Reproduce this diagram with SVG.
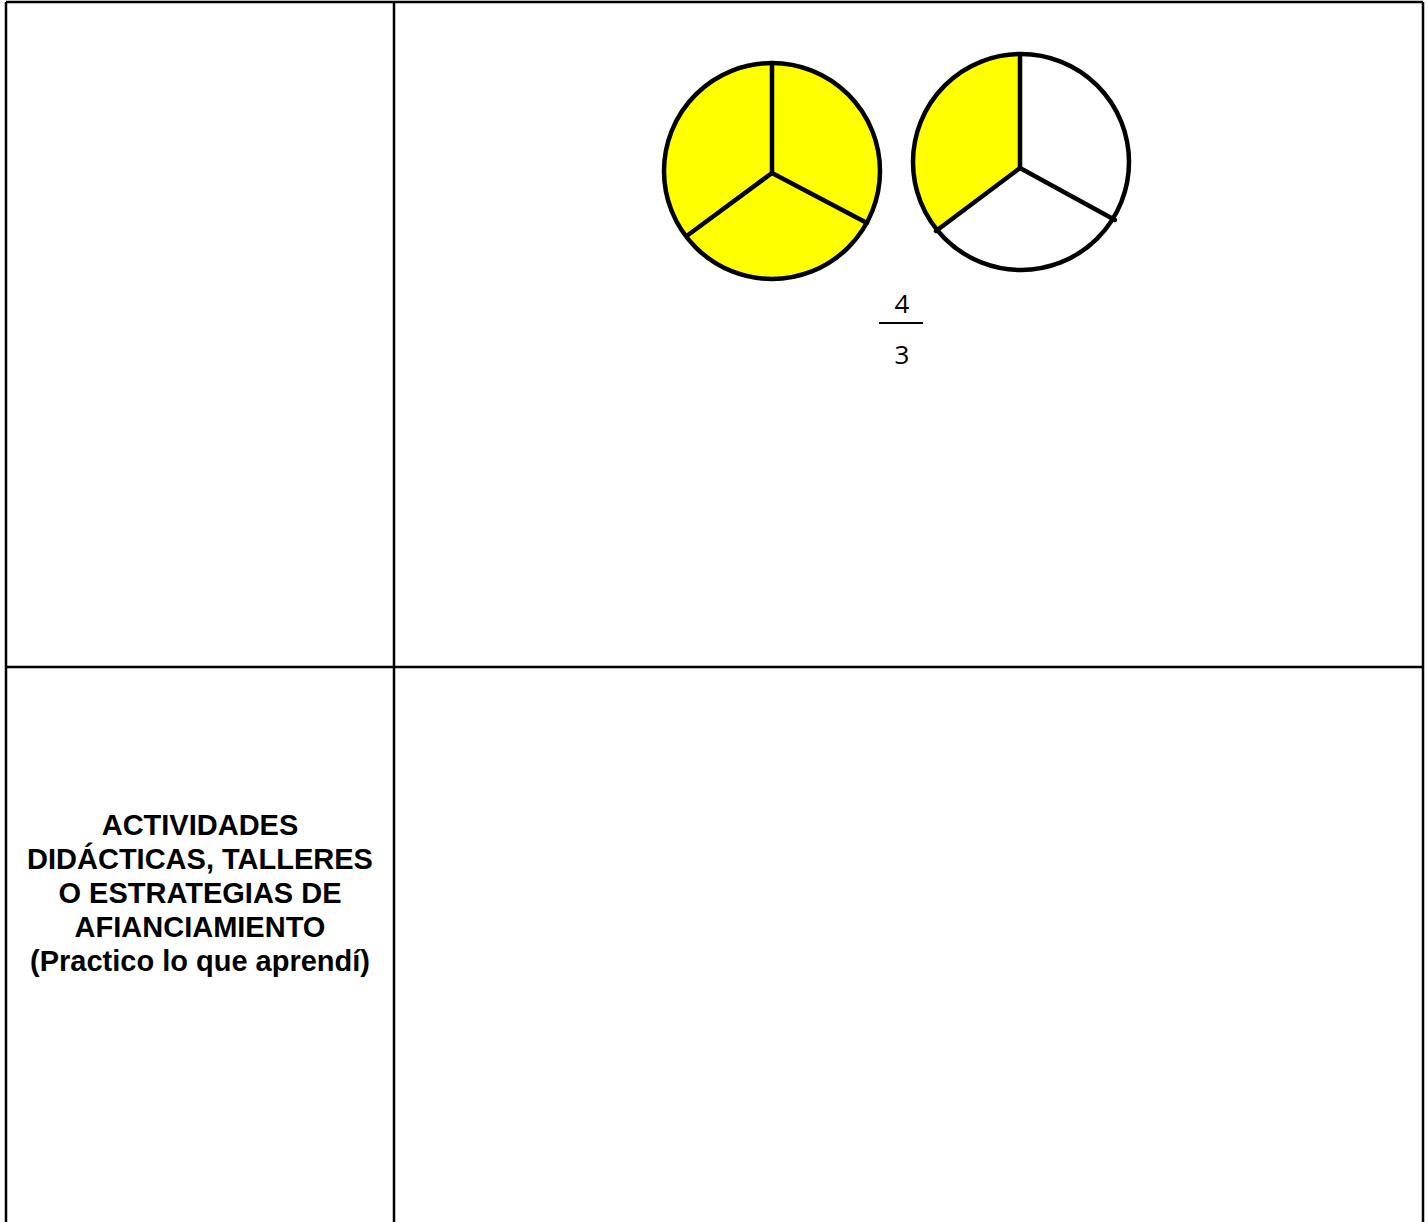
<svg xmlns="http://www.w3.org/2000/svg" width="1427" height="1222" viewBox="0 0 1427 1222">
<style>
.grid{stroke:#000;stroke-width:2.5;fill:none}
.ring{stroke:#000;stroke-width:4.5;fill:none}
.spoke{stroke:#000;stroke-width:4.5;stroke-linecap:round}
.yel{fill:#FFFF00}
.lbl{font-family:"Liberation Sans",Arial,sans-serif;font-weight:bold;font-size:29px;fill:#000;text-anchor:middle}
.frac{font-family:"Open Sans","Noto Sans",sans-serif;font-size:26px;fill:#000;text-anchor:middle}
</style>
<rect width="1427" height="1222" fill="#fff"/>
<g id="table">
<line class="grid" x1="6" y1="2" x2="1423" y2="2"/>
<line class="grid" x1="6" y1="2" x2="6" y2="1222"/>
<line class="grid" x1="394" y1="2" x2="394" y2="1222"/>
<line class="grid" x1="1423" y1="2" x2="1423" y2="1222"/>
<line class="grid" x1="6" y1="667" x2="1423" y2="667"/>
</g>
<g id="circle-full">
<circle class="yel" cx="772" cy="171" r="108"/>
<circle class="ring" cx="772" cy="171" r="108"/>
<line class="spoke" x1="772" y1="173" x2="772" y2="63"/>
<line class="spoke" x1="772" y1="173" x2="688" y2="235"/>
<line class="spoke" x1="772" y1="173" x2="867" y2="223"/>
</g>
<g id="circle-third">
<circle cx="1021" cy="162" r="108" fill="#fff"/>
<path class="yel" d="M1020 168 L1021 54 A108 108 0 0 0 937.3 230.2 Z"/>
<circle class="ring" cx="1021" cy="162" r="108"/>
<line class="spoke" x1="1020" y1="168" x2="1020" y2="55"/>
<line class="spoke" x1="1020" y1="168" x2="936" y2="231"/>
<line class="spoke" x1="1020" y1="168" x2="1115" y2="220"/>
</g>
<g id="fraction">
<text class="frac" x="902" y="313">4</text>
<line x1="879" y1="323" x2="923" y2="323" stroke="#000" stroke-width="2"/>
<text class="frac" x="902" y="364">3</text>
</g>
<g id="label">
<text class="lbl" x="200" y="835">ACTIVIDADES</text>
<text class="lbl" x="200" y="869">DIDÁCTICAS, TALLERES</text>
<text class="lbl" x="200" y="903">O ESTRATEGIAS DE</text>
<text class="lbl" x="200" y="937">AFIANCIAMIENTO</text>
<text class="lbl" x="200" y="971">(Practico lo que aprendí)</text>
</g>
<g id="connectors"></g>
</svg>
